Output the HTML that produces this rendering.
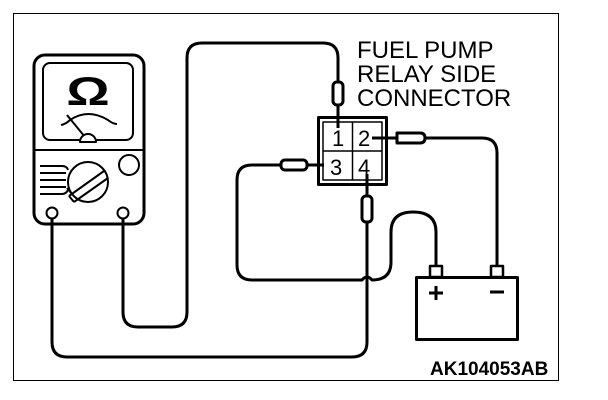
<!DOCTYPE html>
<html><head><style>
html,body{margin:0;padding:0;background:#fff;}
svg{display:block;}
text{font-family:"Liberation Sans",sans-serif;}
</style></head><body>
<svg width="608" height="400" viewBox="0 0 608 400" xmlns="http://www.w3.org/2000/svg">
<rect x="13.5" y="13.5" width="545" height="367" fill="none" stroke="#000" stroke-width="1"/>
<g fill="none" stroke="#000" stroke-width="3" stroke-linejoin="round">
<!-- meter -->
<rect x="34" y="55" width="110" height="169" rx="11"/>
<rect x="43" y="63" width="90" height="77" rx="7" stroke-width="2"/>
<line x1="34" y1="150" x2="144" y2="150" stroke-width="2"/>
<path d="M61 125 Q66 124 70 120 Q88 108 108 120 Q113 124 117 124" stroke-width="2"/>
<line x1="67" y1="115" x2="85" y2="137" stroke-width="2"/>
<path d="M80 142 A8 8 0 0 1 96 142 Z" stroke-width="2" fill="#fff"/>
<circle cx="88" cy="182" r="20" stroke-width="2"/>
<path d="M69 196 L104 171 M74 202 L108 178" stroke-width="2"/>
<path d="M69 196 L74 202 M67 188 L72 194" stroke-width="2"/>
<path d="M40 166 H62 Q67 166 68 170 M40 173 H66 M40 180 H66 M40 187 H66 M40 194 H62 Q66 194 68 190" stroke-width="2"/>
<circle cx="129" cy="165" r="10" stroke-width="2"/>
<circle cx="52" cy="213" r="5.5" stroke-width="2"/>
<circle cx="123" cy="213" r="5.5" stroke-width="2"/>
<!-- wires -->
<path d="M52 219 V342 Q52 357 67 357 H352 Q367 357 367 342 V222"/>
<path d="M123 219 V312 Q123 327 138 327 H172 Q187 327 187 312 V58 Q187 43 202 43 H323 Q338 43 338 58 V82"/>
<line x1="338" y1="105" x2="338" y2="128"/>
<line x1="367" y1="174" x2="367" y2="196"/>
<path d="M307 165 H324"/>
<path d="M280 165 H252 Q237 165 237 180 V265 Q237 280 252 280 H362 Q367 274 372 280 Q391 280 391 262 V232 Q391 212 413 212 Q436 212 436 232 V266"/>
<path d="M372 138 H397"/>
<path d="M425 138 H482 Q497 138 497 153 V266"/>
<!-- plugs -->
<rect x="333" y="82" width="10" height="23" rx="4" fill="#fff"/>
<rect x="362" y="196" width="10" height="26" rx="4" fill="#fff"/>
<rect x="281" y="160" width="26" height="10" rx="4" fill="#fff"/>
<path d="M397 133 H420 Q425 133 425 138 Q425 143 420 143 H397 Z" fill="#fff"/>
<!-- connector -->
<rect x="318.5" y="117.5" width="68" height="67"/>
<rect x="323" y="122" width="59" height="58" stroke-width="1.5"/>
<line x1="352.5" y1="122" x2="352.5" y2="180" stroke-width="1.5"/>
<line x1="323" y1="151" x2="382" y2="151" stroke-width="1.5"/>
<!-- battery -->
<rect x="416.5" y="277.5" width="101" height="62"/>
<rect x="430" y="266" width="12" height="11" stroke-width="2.5"/>
<rect x="491" y="266" width="12" height="11" stroke-width="2.5"/>
<path d="M429 293 H443 M436 286 V300 M490 292 H504"/>
</g>
<text transform="translate(88 105) scale(1.35 1)" x="0" y="0" font-size="40" font-weight="bold" text-anchor="middle">Ω</text>
<g font-size="22">
<text x="332" y="146">1</text><text x="358" y="146">2</text>
<text x="330" y="175">3</text><text x="358" y="175">4</text>
</g>
<g font-size="24">
<text x="357" y="58">FUEL PUMP</text>
<text x="357" y="82">RELAY SIDE</text>
<text x="357" y="106">CONNECTOR</text>
</g>
<text x="430" y="375" font-size="19" font-weight="bold">AK104053AB</text>
</svg>
</body></html>
